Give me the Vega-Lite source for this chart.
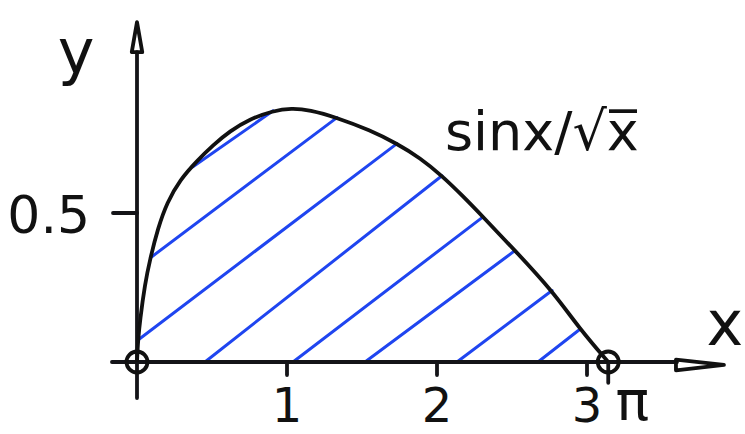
{
  "$schema": "https://vega.github.io/schema/vega-lite/v6.json",
  "width": 745,
  "height": 434,
  "padding": 0,
  "autosize": {"type": "none"},
  "background": "white",
  "config": {"view": {"stroke": null}},
  "datasets": {
    "curve": [
      {"x": 0, "y": 0},
      {"x": 0.003, "y": 0.035},
      {"x": 0.008, "y": 0.075},
      {"x": 0.02, "y": 0.14},
      {"x": 0.053, "y": 0.262},
      {"x": 0.087, "y": 0.345},
      {"x": 0.14, "y": 0.45},
      {"x": 0.2, "y": 0.535},
      {"x": 0.287, "y": 0.612},
      {"x": 0.4, "y": 0.675},
      {"x": 0.507, "y": 0.728},
      {"x": 0.62, "y": 0.775},
      {"x": 0.75, "y": 0.815},
      {"x": 0.907, "y": 0.843},
      {"x": 1.03, "y": 0.852},
      {"x": 1.15, "y": 0.846},
      {"x": 1.333, "y": 0.82},
      {"x": 1.553, "y": 0.778},
      {"x": 1.733, "y": 0.733},
      {"x": 1.887, "y": 0.685},
      {"x": 2.033, "y": 0.625},
      {"x": 2.17, "y": 0.558},
      {"x": 2.307, "y": 0.487},
      {"x": 2.52, "y": 0.374},
      {"x": 2.767, "y": 0.24},
      {"x": 2.953, "y": 0.11},
      {"x": 3.1416, "y": 0}
    ],
    "hatch": [
      {"x": 0.373, "y": 0.655, "x2": 0.907, "y2": 0.843},
      {"x": 0.09, "y": 0.35, "x2": 1.333, "y2": 0.82},
      {"x": 0.007, "y": 0.074, "x2": 1.733, "y2": 0.733},
      {"x": 0.453, "y": 0, "x2": 2.033, "y2": 0.625},
      {"x": 1.04, "y": 0, "x2": 2.307, "y2": 0.487},
      {"x": 1.52, "y": 0, "x2": 2.52, "y2": 0.374},
      {"x": 2.133, "y": 0, "x2": 2.767, "y2": 0.24},
      {"x": 2.673, "y": 0, "x2": 2.953, "y2": 0.11}
    ],
    "axes": [
      {"x": 0, "y": -0.121, "x2": 0, "y2": 1.04},
      {"x": -0.167, "y": 0, "x2": 3.6, "y2": 0}
    ],
    "ticks": [
      {"x": -0.16, "y": 0.5, "x2": 0, "y2": 0.5},
      {"x": 1, "y": 0, "x2": 1, "y2": -0.044},
      {"x": 2, "y": 0, "x2": 2, "y2": -0.044},
      {"x": 3, "y": 0, "x2": 3, "y2": -0.044},
      {"x": 3.1416, "y": 0, "x2": 3.1416, "y2": -0.07}
    ],
    "endpoints": [
      {"x": 0, "y": 0},
      {"x": 3.1416, "y": 0}
    ],
    "xlabels": [
      {"x": 1, "y": 0, "t": "1"},
      {"x": 2, "y": 0, "t": "2"},
      {"x": 3, "y": 0, "t": "3"}
    ]
  },
  "encoding": {
    "x": {"field": "x", "type": "quantitative", "axis": null,
          "scale": {"domain": [-0.9133, 4.0533], "nice": false, "zero": false}},
    "y": {"field": "y", "type": "quantitative", "axis": null,
          "scale": {"domain": [-0.2416, 1.2148], "nice": false, "zero": false}}
  },
  "layer": [
    {
      "data": {"name": "hatch"},
      "mark": {"type": "rule", "color": "#1f45f0", "strokeWidth": 3, "strokeCap": "round"},
      "encoding": {"x2": {"field": "x2"}, "y2": {"field": "y2"}}
    },
    {
      "data": {"name": "axes"},
      "mark": {"type": "rule", "color": "#141418", "strokeWidth": 3.8, "strokeCap": "round"},
      "encoding": {"x2": {"field": "x2"}, "y2": {"field": "y2"}}
    },
    {
      "data": {"name": "ticks"},
      "mark": {"type": "rule", "color": "#141418", "strokeWidth": 3.8, "strokeCap": "round"},
      "encoding": {"x2": {"field": "x2"}, "y2": {"field": "y2"}}
    },
    {
      "data": {"name": "curve"},
      "mark": {"type": "line", "color": "#111111", "strokeWidth": 3.8, "interpolate": "basis"},
      "encoding": {"order": {"field": "x", "type": "quantitative"}}
    },
    {
      "data": {"name": "endpoints"},
      "mark": {"type": "point", "shape": "circle", "filled": false, "size": 441, "color": "#111111", "strokeWidth": 3.8, "opacity": 1}
    },
    {
      "data": {"values": [{"x": 0, "y": 1.09}]},
      "mark": {"type": "point", "shape": "M0,-1L-0.35,1L0.35,1Z", "filled": false, "size": 900, "color": "#111111", "strokeWidth": 3.8, "opacity": 1, "strokeJoin": "round"}
    },
    {
      "data": {"values": [{"x": 3.753, "y": -0.01}]},
      "mark": {"type": "point", "shape": "M1,0L-1,-0.22L-1,0.22Z", "filled": false, "size": 2304, "color": "#111111", "strokeWidth": 3.8, "opacity": 1, "strokeJoin": "round"}
    },
    {
      "data": {"name": "xlabels"},
      "mark": {"type": "text", "font": "DejaVu Sans", "fill": "#111111", "fontSize": 48, "align": "center", "baseline": "alphabetic", "dy": 60},
      "encoding": {"text": {"field": "t", "type": "nominal"}}
    },
    {
      "data": {"values": [{"x": 3.1416, "y": 0, "t": "π"}]},
      "mark": {"type": "text", "font": "DejaVu Sans", "fill": "#111111", "fontSize": 56, "align": "center", "baseline": "alphabetic", "dx": 24, "dy": 58},
      "encoding": {"text": {"field": "t", "type": "nominal"}}
    },
    {
      "data": {"values": [{"x": 0, "y": 0.5, "t": "0.5"}]},
      "mark": {"type": "text", "font": "DejaVu Sans", "fill": "#111111", "fontSize": 52, "align": "right", "baseline": "alphabetic", "dx": -47, "dy": 20},
      "encoding": {"text": {"field": "t", "type": "nominal"}}
    },
    {
      "data": {"values": [{"x": 0, "y": 1, "t": "y"}]},
      "mark": {"type": "text", "font": "DejaVu Sans", "fill": "#111111", "fontSize": 62, "align": "center", "baseline": "alphabetic", "dx": -61, "dy": 9},
      "encoding": {"text": {"field": "t", "type": "nominal"}}
    },
    {
      "data": {"values": [{"x": 3.753, "y": 0, "t": "x"}]},
      "mark": {"type": "text", "font": "DejaVu Sans", "fill": "#111111", "fontSize": 62, "align": "center", "baseline": "alphabetic", "dx": 25, "dy": -17},
      "encoding": {"text": {"field": "t", "type": "nominal"}}
    },
    {
      "data": {"values": [{"x": 2.053, "y": 0.711, "t": "sinx/√x̅"}]},
      "mark": {"type": "text", "font": "DejaVu Sans", "fill": "#111111", "fontSize": 54, "align": "left", "baseline": "alphabetic"},
      "encoding": {"text": {"field": "t", "type": "nominal"}}
    }
  ]
}
